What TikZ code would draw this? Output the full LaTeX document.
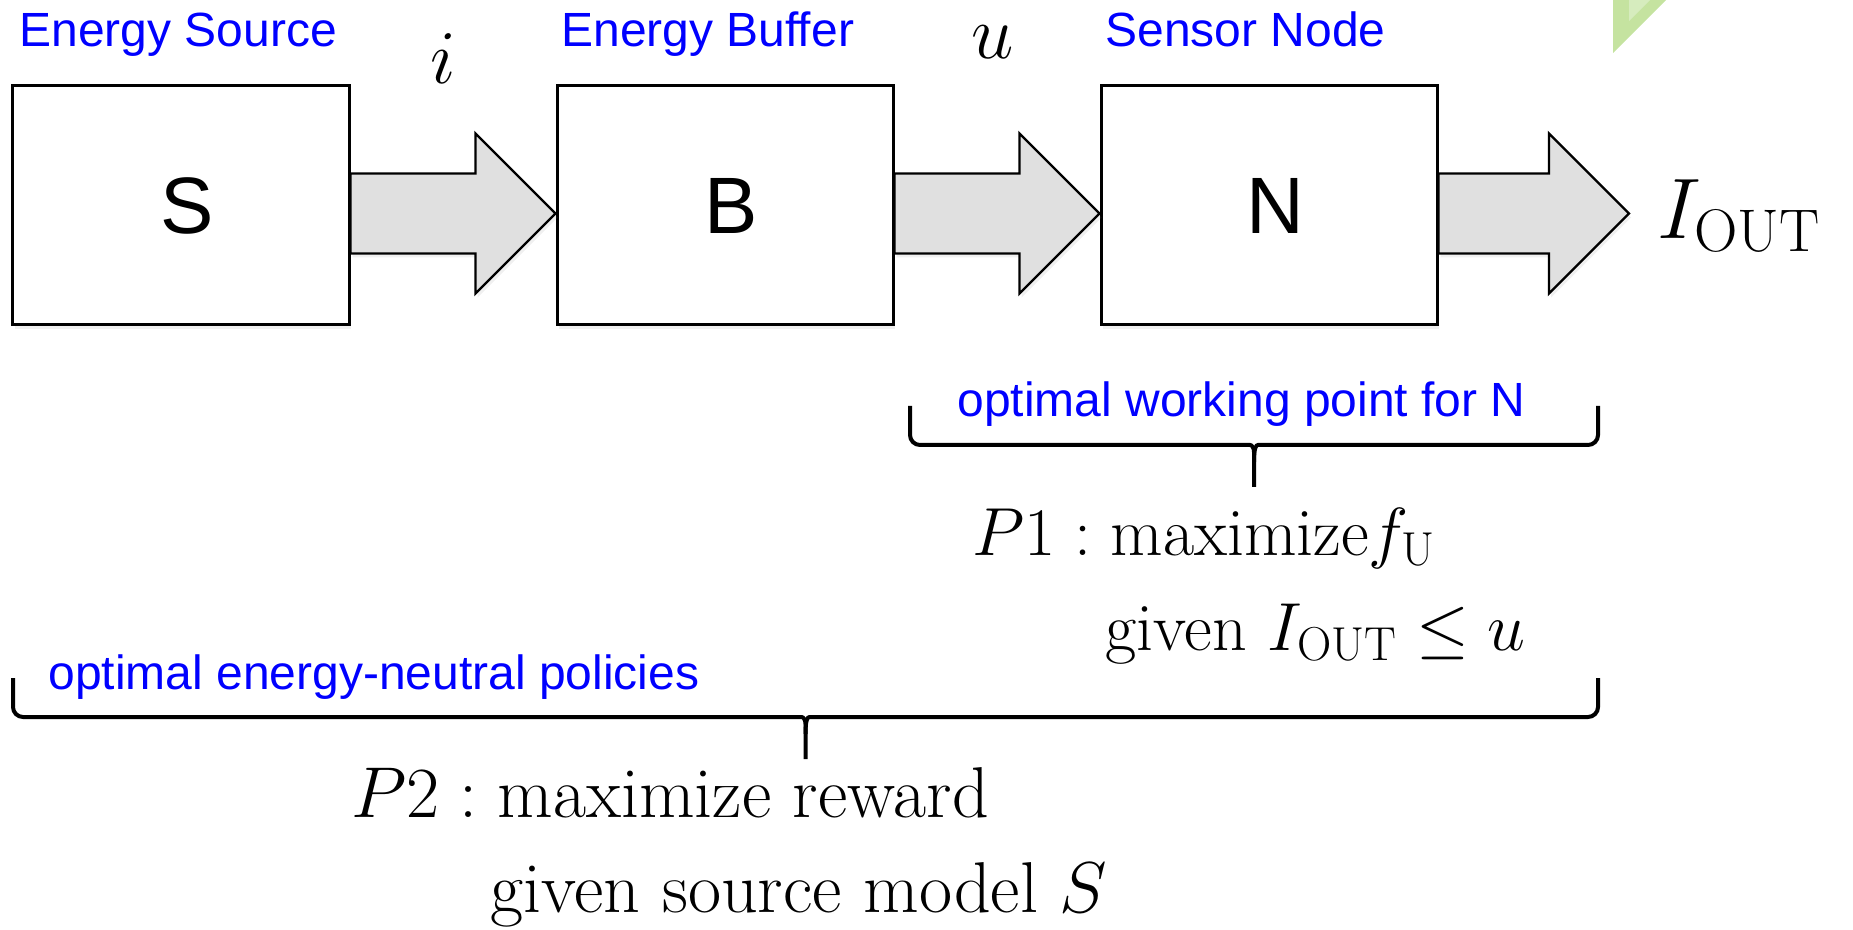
\RequirePackage{fix-cm}
\documentclass[tikz,border=0pt]{standalone}
\usepackage{amsmath,amsfonts,amssymb}
\usepackage{fontspec}
\setsansfont{Liberation Sans}
\usepackage{tikz}
\usetikzlibrary{calc,shadows}

\definecolor{leafgreen}{RGB}{197,227,160}
\definecolor{leaflight}{RGB}{214,236,190}
\definecolor{arrowgray}{RGB}{224,224,224}

\tikzset{
	block/.style={draw,line width=1.5pt,fill=white,minimum width=168pt,minimum height=119.5pt,inner sep=0pt,
		font=\sffamily\fontsize{40}{48}\selectfont,
		drop shadow={opacity=0.12,shadow xshift=1pt,shadow yshift=-2pt}},
	caption/.style={text=blue,inner sep=0pt,font=\sffamily\fontsize{24}{28}\selectfont},
	bigarrow/.style={draw,line width=1.2pt,fill=arrowgray,line join=miter,
		drop shadow={opacity=0.12,shadow xshift=1pt,shadow yshift=-2pt}},
	bracket/.style={line width=2pt,rounded corners=5pt},
	formula/.style={inner sep=0pt,font=\fontsize{34}{40}\selectfont},
	signal/.style={inner sep=0pt,font=\fontsize{38}{46}\selectfont}
}

\newcommand{\fatarrow}[2]{%
	\path[bigarrow] let \p1=(#1), \p2=(#2) in
		(\x1,\y1+20pt) -- (\x2-40pt,\y1+20pt) -- (\x2-40pt,\y1+40pt) -- (\x2,\y2)
		-- (\x2-40pt,\y1-40pt) -- (\x2-40pt,\y1-20pt) -- (\x1,\y1-20pt) -- cycle;}

\begin{document}
\begin{tikzpicture}[x=50pt,y=50pt]
			\useasboundingbox (0,0) rectangle (18.53,-9.30);
			
			\fill[leafgreen] (16.13,0) -- (16.13,-0.53) -- (16.66,0) -- cycle;
			\fill[leaflight] (16.29,0) -- (16.29,-0.21) -- (16.50,0) -- cycle;
			
			\node [block] (S) at (1.81,-2.055) {\hspace{6pt}S};
			\node [block] (B) at (7.25,-2.055) {\hspace{6pt}B};
			\node [block] (N) at (12.69,-2.055) {\hspace{6pt}N};
			\coordinate (tip) at (16.29,-2.135);
			
			\fatarrow{$(S.east)+(0,-0.08)$}{$(B.west)+(0,-0.08)$}
			\fatarrow{$(B.east)+(0,-0.08)$}{$(N.west)+(0,-0.08)$}
			\fatarrow{$(N.east)+(0,-0.08)$}{tip}
			
			\node [caption,anchor=base west] (srclbl) at (0.19,-0.47) {Energy Source};
			\node [caption,anchor=base west] (buflbl) at (5.61,-0.47) {Energy Buffer};
			\node [caption,anchor=base west] (nodelbl) at (11.05,-0.47) {Sensor Node};
			
			\node [signal,anchor=base] (i) at (4.43,-0.84) {$i$};
			\node [signal,anchor=base] (u) at (9.93,-0.59) {$u$};
			\node [signal,anchor=base west,font=\fontsize{43}{50}\selectfont] (iout) at (16.57,-2.39) {$I_{\mathrm{OUT}}$};
			
			\draw[bracket] (9.10,-4.06) -- (9.10,-4.45) -- (12.40,-4.45) .. controls (12.52,-4.45) and (12.54,-4.48) .. (12.54,-4.62) -- (12.54,-4.87);
			\draw[bracket] (15.98,-4.06) -- (15.98,-4.45) -- (12.68,-4.45) .. controls (12.56,-4.45) and (12.54,-4.48) .. (12.54,-4.62);
			\node [caption,anchor=base west] (wplbl) at (9.57,-4.17) {optimal working point for N};
			
			\draw[bracket] (0.13,-6.78) -- (0.13,-7.17) -- (7.915,-7.17) .. controls (8.035,-7.17) and (8.055,-7.20) .. (8.055,-7.34) -- (8.055,-7.59);
			\draw[bracket] (15.98,-6.78) -- (15.98,-7.17) -- (8.195,-7.17) .. controls (8.075,-7.17) and (8.055,-7.20) .. (8.055,-7.34);
			\node [caption,anchor=base west] (enlbl) at (0.48,-6.89) {optimal energy-neutral policies};
			
			\node [formula,anchor=base west] (p1a) at (9.72,-5.55) {$P1:\mathrm{maximize} f_{\mathrm{U}}$};
			\node [formula,anchor=base west] (p1b) at (11.05,-6.50) {given $I_{\mathrm{OUT}}\leq u$};
			\node [formula,anchor=base west,font=\fontsize{36}{42}\selectfont] (p2a) at (3.51,-8.17) {$P2:\text{maximize reward}$};
			\node [formula,anchor=base west,font=\fontsize{36}{42}\selectfont] (p2b) at (4.90,-9.12) {given source model $S$};
		\end{tikzpicture}
\end{document}
